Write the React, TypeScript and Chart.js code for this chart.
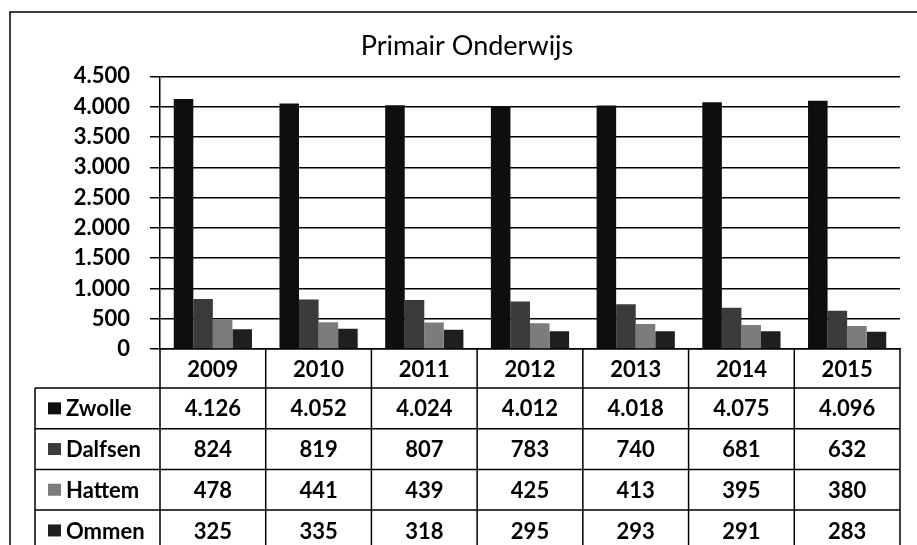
import React, { useEffect, useRef } from "react";
import { Chart, registerables } from "chart.js";

Chart.register(...registerables);

const years = ["2009", "2010", "2011", "2012", "2013", "2014", "2015"];
const zwolle = [4126, 4052, 4024, 4012, 4018, 4075, 4096];
const dalfsen = [824, 819, 807, 783, 740, 681, 632];
const hattem = [478, 441, 439, 425, 413, 395, 380];
const ommen = [325, 335, 318, 295, 293, 291, 283];
const seriesNames = ["Zwolle", "Dalfsen", "Hattem", "Ommen"];
const seriesValues = [zwolle, dalfsen, hattem, ommen];
const seriesColors = ["#0e0e0e", "#3b3b3b", "#7c7c7c", "#1f1f1f"];
const titleText = "Primair Onderwijs";
const yMax = 4500;
const yStep = 500;

const FONT = "Lato, 'Open Sans', sans-serif";

const fmt = (n: number) => String(n).replace(/\B(?=(\d{3})+(?!\d))/g, ".");

const HEADER_H = 39;
const ROW_H = 40.7;
const LABEL_LEFT = 35;
const PAD_LEFT = 34;

const tablePlugin = {
  id: "dataTable",
  afterDraw(chart: any) {
    const ctx = chart.ctx as CanvasRenderingContext2D;
    const xs = chart.scales.x;
    const area = chart.chartArea;
    const left = xs.left;
    const right = xs.right;
    const n = years.length;
    const colW = (right - left) / n;
    const top = area.bottom;
    const rowTop = top + HEADER_H;
    const bottom = chart.height + 5;
    ctx.save();
    ctx.strokeStyle = "#000";
    ctx.lineWidth = 1.5;
    // outer frame
    ctx.beginPath();
    ctx.moveTo(10, chart.height);
    ctx.lineTo(10, 12);
    ctx.lineTo(chart.width, 12);
    ctx.stroke();
    // verticals
    ctx.beginPath();
    for (let i = 0; i <= n; i++) {
      const x = left + i * colW;
      ctx.moveTo(x, top);
      ctx.lineTo(x, bottom);
    }
    ctx.moveTo(LABEL_LEFT, rowTop);
    ctx.lineTo(LABEL_LEFT, bottom);
    // horizontals
    for (let r = 0; r < seriesNames.length; r++) {
      const y = rowTop + r * ROW_H;
      ctx.moveTo(LABEL_LEFT, y);
      ctx.lineTo(right, y);
    }
    ctx.stroke();
    // text
    ctx.fillStyle = "#000";
    ctx.font = `bold 22px ${FONT}`;
    ctx.textBaseline = "middle";
    for (let r = 0; r < seriesNames.length; r++) {
      const yc = rowTop + r * ROW_H + ROW_H / 2;
      ctx.fillStyle = seriesColors[r];
      ctx.fillRect(48, yc - 6, 13, 12);
      ctx.fillStyle = "#000";
      ctx.textAlign = "left";
      ctx.fillText(seriesNames[r], 66, yc + 1);
      ctx.textAlign = "center";
      for (let i = 0; i < n; i++) {
        const xc = xs.getPixelForValue(i);
        ctx.fillText(fmt(seriesValues[r][i]), xc, yc + 1);
      }
    }
    ctx.restore();
  },
};

export default function App() {
  const ref = useRef<HTMLCanvasElement | null>(null);
  useEffect(() => {
    if (!ref.current) return;
    const chart = new Chart(ref.current, {
      type: "bar",
      data: {
        labels: years,
        datasets: seriesNames.map((name, i) => ({
          label: name,
          data: seriesValues[i],
          backgroundColor: seriesColors[i],
          borderWidth: 0,
          barPercentage: 1,
          categoryPercentage: 0.74,
        })),
      },
      options: {
        responsive: false,
        animation: false,
        layout: { padding: { left: PAD_LEFT, right: 17, top: 0, bottom: 545 - 349 - HEADER_H } },
        plugins: {
          legend: { display: false },
          tooltip: { enabled: false },
          title: {
            display: true,
            text: titleText,
            color: "#000",
            font: { family: FONT, size: 27, weight: "normal" },
            padding: { top: 30, bottom: 14 },
          },
        },
        scales: {
          x: {
            grid: { display: false, drawTicks: false },
            border: { display: true, color: "#000", width: 1.5 },
            ticks: {
              color: "#000",
              font: { family: FONT, size: 22, weight: "bold" },
              padding: 8,
            },
            afterFit: (s: any) => {
              s.height = HEADER_H;
            },
          },
          y: {
            min: 0,
            max: yMax,
            grid: { color: "#000", lineWidth: 1.5, tickLength: 10, tickColor: "#000" },
            border: { display: true, color: "#000", width: 1.5 },
            ticks: {
              stepSize: yStep,
              color: "#000",
              padding: 20,
              font: { family: FONT, size: 22, weight: "bold" },
              callback: (v: any) => fmt(Number(v)),
            },
            afterFit: (s: any) => {
              s.width = 160 - PAD_LEFT;
            },
          },
        },
      },
      plugins: [tablePlugin],
    });
    return () => chart.destroy();
  }, []);
  return (
    <div style={{ position: "absolute", left: 0, top: 0, width: 917, height: 545, background: "#fff" }}>
      <canvas ref={ref} width={917} height={545} style={{ display: "block" }} />
    </div>
  );
}
